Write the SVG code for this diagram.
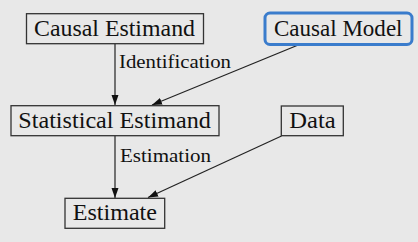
<svg xmlns="http://www.w3.org/2000/svg" width="418" height="242" viewBox="0 0 418 242">
  <style>
    .box { fill: none; stroke: #333; stroke-width: 1.3; }
    .model { fill: none; stroke: #3a7ccc; stroke-width: 3; }
    .lbl { font-family: 'Liberation Serif', 'DejaVu Serif', serif; font-size: 23px; fill: #111; }
    .edge-lbl { font-family: 'Liberation Serif', 'DejaVu Serif', serif; font-size: 18px; fill: #111; }
    .edge { stroke: #222; stroke-width: 1.2; fill: none; marker-end: url(#arrow); }
  </style>
  <defs>
    <marker id="arrow" viewBox="0 0 10 10" refX="10" refY="5" markerWidth="10" markerHeight="10" markerUnits="userSpaceOnUse" orient="auto">
      <path d="M0,1.5 L10,5 L0,8.5 Z" fill="#111"/>
    </marker>
  </defs>
  <rect width="418" height="242" fill="#e8e8e8"/>

  <g id="edges">
    <line class="edge" x1="115" y1="44" x2="115" y2="105"/>
    <line class="edge" x1="297" y1="45.5" x2="152" y2="105"/>
    <line class="edge" x1="115" y1="136" x2="115" y2="198"/>
    <line class="edge" x1="281.5" y1="136" x2="148" y2="197.5"/>
    <text class="edge-lbl" x="119" y="68" textLength="112" lengthAdjust="spacingAndGlyphs">Identification</text>
    <text class="edge-lbl" x="120" y="162" textLength="91" lengthAdjust="spacingAndGlyphs">Estimation</text>
  </g>

  <g id="causal-estimand">
    <rect class="box" x="26.5" y="13.7" width="177" height="30"/>
    <text class="lbl" x="34" y="35.7" textLength="161" lengthAdjust="spacingAndGlyphs">Causal Estimand</text>
  </g>

  <g id="causal-model">
    <rect class="model" x="265" y="13" width="147" height="31.5" rx="5"/>
    <text class="lbl" x="274" y="35.7" textLength="128.5" lengthAdjust="spacingAndGlyphs">Causal Model</text>
  </g>

  <g id="statistical-estimand">
    <rect class="box" x="11" y="105.7" width="208" height="30"/>
    <text class="lbl" x="18.3" y="128.3" textLength="192.5" lengthAdjust="spacingAndGlyphs">Statistical Estimand</text>
  </g>

  <g id="data">
    <rect class="box" x="281.3" y="106" width="62" height="29.7"/>
    <text class="lbl" x="289.3" y="128.3" textLength="46.4" lengthAdjust="spacingAndGlyphs">Data</text>
  </g>

  <g id="estimate">
    <rect class="box" x="65" y="198.3" width="99.7" height="30"/>
    <text class="lbl" x="72.7" y="220.3" textLength="84.3" lengthAdjust="spacingAndGlyphs">Estimate</text>
  </g>
</svg>
